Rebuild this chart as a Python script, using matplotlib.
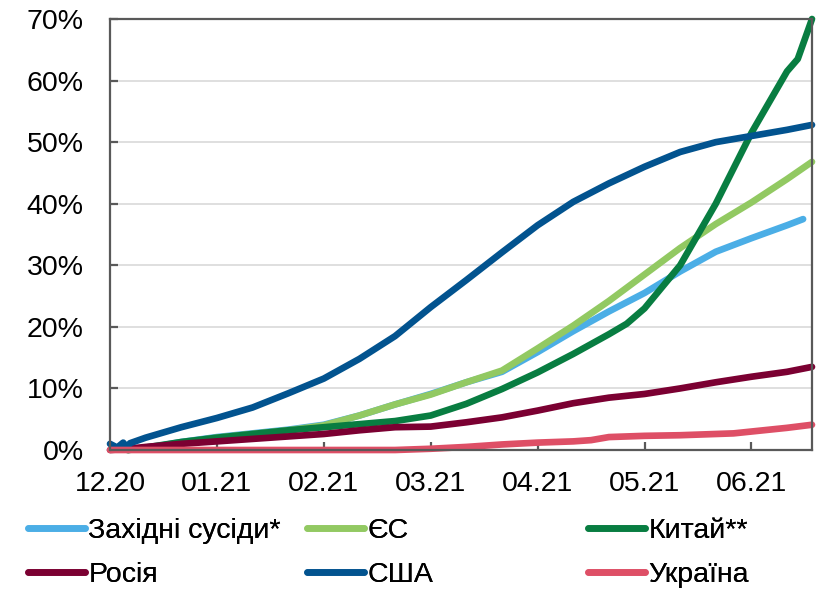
import numpy as np
import matplotlib
matplotlib.use("Agg")
import matplotlib.pyplot as plt

plt.rcParams['font.family'] = ['Liberation Sans', 'DejaVu Sans']

# days from start of axis (tick every 30 days)
tick_days = [0, 30, 60, 90, 120, 150, 180]
tick_labels = ['12.20', '01.21', '02.21', '03.21', '04.21', '05.21', '06.21']

# values, % of population
d_usa = [0, 2, 3.7, 4.8, 5.6, 10, 20, 30, 40, 50, 60, 70, 80, 90, 100, 110, 120, 130, 140, 150, 160, 170, 180, 190, 197]
usa = [1.0, 0.4, 1.2, 0.4, 1.1, 2.0, 3.7, 5.2, 6.9, 9.2, 11.6, 14.8, 18.5, 23.2, 27.6, 32.1, 36.5, 40.3, 43.3, 46.0, 48.4, 50.0, 51.0, 52.0, 52.8]

d_eu = [5, 10, 20, 30, 40, 50, 60, 70, 80, 90, 100, 110, 120, 130, 140, 150, 160, 170, 180, 190, 197]
eu = [0.0, 0.3, 1.2, 2.0, 2.6, 3.2, 4.0, 5.6, 7.4, 9.0, 11.0, 12.9, 16.5, 20.2, 24.2, 28.5, 32.8, 36.7, 40.2, 44.0, 46.8]

d_west = [5, 10, 20, 30, 40, 50, 60, 70, 80, 90, 100, 110, 120, 130, 140, 150, 160, 170, 180, 190, 194.5]
west = [0.0, 0.3, 1.3, 2.1, 2.7, 3.3, 4.1, 5.6, 7.4, 9.1, 11.0, 12.7, 15.9, 19.3, 22.5, 25.5, 29.0, 32.2, 34.4, 36.5, 37.5]

d_china = [5, 10, 20, 30, 40, 50, 60, 70, 80, 90, 100, 110, 120, 130, 140, 145, 150, 160, 170, 180, 190, 193, 197]
china = [0.0, 0.4, 1.3, 2.0, 2.6, 3.2, 3.7, 4.2, 4.7, 5.6, 7.5, 9.9, 12.6, 15.6, 18.8, 20.5, 23.0, 30.0, 40.0, 51.5, 61.5, 63.5, 70.0]

d_russia = [0, 5, 10, 20, 30, 40, 50, 60, 70, 80, 90, 100, 110, 120, 130, 140, 150, 160, 170, 180, 190, 197]
russia = [0.0, 0.2, 0.5, 1.0, 1.4, 1.8, 2.2, 2.6, 3.2, 3.7, 3.8, 4.5, 5.3, 6.4, 7.6, 8.5, 9.1, 10.0, 11.0, 11.9, 12.7, 13.5]

d_ukraine = [0, 80, 90, 100, 110, 120, 130, 135, 140, 150, 160, 170, 175, 180, 190, 197]
ukraine = [0.0, 0.0, 0.2, 0.5, 0.9, 1.2, 1.4, 1.6, 2.1, 2.3, 2.4, 2.6, 2.7, 3.0, 3.6, 4.1]

series = [
    ('Західні сусіди*', d_west, west, '#4BAEE6'),
    ('ЄС', d_eu, eu, '#92C962'),
    ('Китай**', d_china, china, '#087D41'),
    ('Росія', d_russia, russia, '#7B0032'),
    ('США', d_usa, usa, '#02538F'),
    ('Україна', d_ukraine, ukraine, '#DE4F66'),
]

fig = plt.figure(figsize=(8.17, 5.90), dpi=100)
ax = fig.add_axes([110/817, 1-450/590, (812-110)/817, (450-19)/590])

handles = []
for name, d, v, c in series:
    h, = ax.plot(d, v, color=c, lw=4.8, label=name, solid_capstyle='round',
                 solid_joinstyle='round', clip_on=False)
    handles.append(h)

ax.set_xlim(0, 197)
ax.set_ylim(0, 70)
ax.set_yticks(range(0, 71, 10))
ax.set_yticklabels([f'{t}%' for t in range(0, 71, 10)])
ax.set_xticks(tick_days)
ax.set_xticklabels(tick_labels)
ax.grid(axis='y', color='#D9D9D9', lw=1.2)
ax.set_axisbelow(True)
for s in ax.spines.values():
    s.set_color('#595959')
    s.set_linewidth(1.6)
ax.tick_params(axis='both', direction='in', length=6, width=1.6, color='#595959',
               labelsize=20.5, labelcolor='black')
ax.tick_params(axis='y', pad=19)
ax.tick_params(axis='x', pad=15)

# legend in three columns, placed by hand
cols = [(28, [0, 3]), (307, [1, 4]), (588, [2, 5])]
for x0, idx in cols:
    leg = fig.legend([handles[i] for i in idx], [series[i][0] for i in idx],
                     loc='center left', bbox_to_anchor=(x0/817, 1-553/590),
                     frameon=False, fontsize=20.5, handlelength=2.0, handletextpad=0.12,
                     labelspacing=0.6, borderpad=0, borderaxespad=0)
    for l in leg.get_lines():
        l.set_linewidth(4.8)
    fig.add_artist(leg)

fig.savefig('out.png', dpi=100)
